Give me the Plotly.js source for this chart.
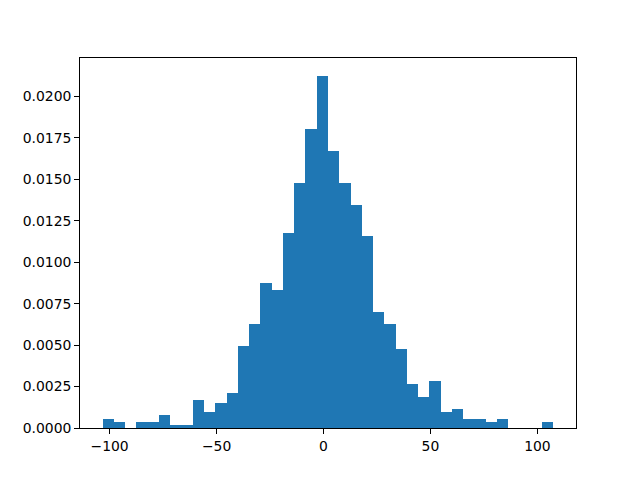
<!DOCTYPE html>
<html>
<head>
<meta charset="utf-8">
<script src="https://cdn.plot.ly/plotly-3.0.1.min.js"></script>
<style>html,body{margin:0;padding:0;background:#fff;}#chart{width:640px;height:480px;}</style>
</head>
<body>
<div id="chart"></div>
<script>
// Histogram (density): 40 bins, 1000 samples
const binStart = -103.3;
const binWidth = 5.27;
const counts = [3, 2, 0, 2, 2, 4, 1, 1, 9, 5, 8, 11,
                26, 33, 46, 44, 62, 78, 95, 112, 88, 78, 71, 61,
                37, 33, 25, 14, 10, 15, 5, 6, 3, 3, 2, 3, 0, 0, 0, 2];
const xTicks = [-100, -50, 0, 50, 100];
const yTicks = [0, 0.0025, 0.005, 0.0075, 0.01, 0.0125, 0.015, 0.0175, 0.02];

const total = counts.reduce((a, b) => a + b, 0);
const centers = counts.map((_, i) => binStart + binWidth * (i + 0.5));
const density = counts.map(c => c / (total * binWidth));
const widths = counts.map(() => binWidth);

const binEnd = binStart + binWidth * counts.length;
const span = binEnd - binStart;
const ymax = Math.max(...density) * 1.05;

const font = {family: 'DejaVu Sans', size: 13.9, color: '#000'};

Plotly.newPlot('chart', [{
  type: 'bar',
  x: centers,
  y: density,
  width: widths,
  marker: {color: '#1f77b4', line: {width: 0}},
  hoverinfo: 'x+y'
}], {
  width: 640, height: 480,
  paper_bgcolor: '#fff', plot_bgcolor: '#fff',
  margin: {l: 80, r: 64, t: 58, b: 52, pad: 0},
  showlegend: false,
  bargap: 0,
  font: font,
  xaxis: {
    range: [binStart - 0.05 * span, binEnd + 0.05 * span],
    tickmode: 'array', tickvals: xTicks, ticktext: xTicks.map(v => v < 0 ? '\u2212' + Math.abs(v) : String(v)),
    ticks: 'outside', ticklen: 4.9, tickwidth: 1, tickcolor: '#000',
    showline: true, linecolor: '#000', linewidth: 1, mirror: true,
    showgrid: false, zeroline: false, tickfont: font
  },
  yaxis: {
    range: [0, ymax],
    tickmode: 'array', tickvals: yTicks, ticktext: yTicks.map(v => v.toFixed(4)),
    ticks: 'outside', ticklen: 4.9, tickwidth: 1, tickcolor: '#000',
    showline: true, linecolor: '#000', linewidth: 1, mirror: true,
    showgrid: false, zeroline: false, tickfont: font
  }
}, {displayModeBar: false, staticPlot: true});
</script>
</body>
</html>
